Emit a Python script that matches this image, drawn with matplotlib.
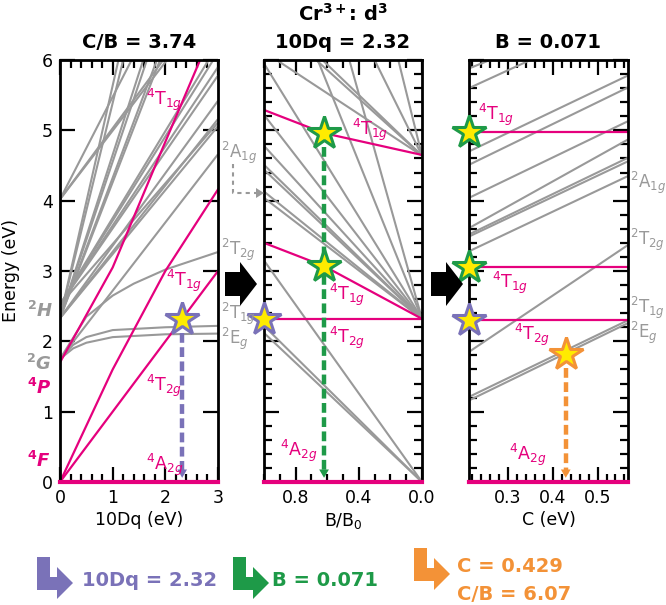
import matplotlib
matplotlib.use("Agg")
import matplotlib.pyplot as plt
from matplotlib.patches import Polygon
import numpy as np

plt.rcParams['font.family'] = ['DejaVu Sans']
plt.rcParams['mathtext.fontset'] = 'dejavusans'

MAG = '#E5007D'
GRAY = '#999999'
PURPLE = '#7A72B8'
GREEN = '#1E9A48'
ORANGE = '#F39237'
YELLOW = '#FFEB00'

# ---------------- data: panel 1 (E vs 10Dq, C/B = 3.74) ----------------
p1_quartets = [
    ([0, 3], [0, 3]),                                  # 4T2g
    ([0, 1.0, 2.0, 3.0], [0, 1.6, 3.0, 4.16]),          # 4T1g(F)
    ([0, 1.0, 1.9, 2.66], [1.70, 3.05, 4.66, 6.0]),     # 4T1g(P)
]
p1_doublets = [
    ([0, 0.25, 0.5, 1.0, 2.0, 3.0], [1.75, 1.90, 1.98, 2.06, 2.10, 2.11]),   # 2Eg
    ([0, 0.25, 0.5, 1.0, 2.0, 3.0], [1.75, 1.95, 2.06, 2.16, 2.20, 2.22]),   # 2T1g
    ([0, 0.5, 1.0, 1.4, 2.0, 3.0], [1.75, 2.35, 2.65, 2.82, 3.02, 3.27]),    # 2T2g
    ([0, 3.0], [1.75, 4.66]),
    ([0, 1.11], [2.33, 6.0]),
    ([0, 1.20], [2.33, 6.0]),
    ([0, 1.58], [2.33, 6.0]),
    ([0, 1.65], [2.33, 6.0]),
    ([0, 1.84], [2.33, 6.0]),
    ([0, 1.90], [2.33, 6.0]),
    ([0, 3.0], [2.33, 5.42]),
    ([0, 3.0], [2.33, 5.16]),
    ([0, 3.0], [2.33, 5.06]),
    ([0, 3.0], [2.52, 5.11]),
    ([0, 1.36], [4.02, 6.0]),
    ([0, 1.96], [4.02, 6.0]),
    ([0, 2.03], [4.02, 6.0]),
    ([0, 2.82], [2.52, 6.0]),
    ([0, 2.91], [2.52, 6.0]),
    ([0, 3.0], [2.52, 5.90]),
    ([0, 3.0], [2.52, 5.78]),
]
p1_star = (2.32, 2.32)

# ---------------- data: panel 2 (E vs B/B0, 10Dq = 2.32) ----------------
p2_quartets = [
    ([1.0, 0.0], [2.32, 2.32]),                 # 4T2g
    ([1.0, 0.62, 0.0], [3.40, 3.07, 2.32]),     # 4T1g(F)
    ([1.0, 0.62, 0.0], [5.29, 4.96, 4.65]),     # 4T1g(P)
]
p2_doublets = [
    ([1.0, 0.0], [2.22, 0.0]),
    ([1.0, 0.0], [2.12, 0.0]),
    ([1.0, 0.0], [3.15, 0.0]),
    ([1.0, 0.0], [4.04, 2.32]),
    ([1.0, 0.0], [4.13, 2.32]),
    ([1.0, 0.0], [4.44, 2.32]),
    ([1.0, 0.0], [4.51, 2.32]),
    ([1.0, 0.0], [4.78, 2.32]),
    ([1.0, 0.0], [5.22, 2.32]),
    ([1.0, 0.0], [5.95, 2.32]),
    ([0.66, 0.0], [6.0, 2.32]),
    ([0.46, 0.0], [6.0, 2.32]),
    ([0.92, 0.0], [6.0, 4.64]),
    ([0.67, 0.0], [6.0, 4.64]),
    ([0.63, 0.0], [6.0, 4.64]),
    ([0.30, 0.0], [6.0, 4.64]),
    ([0.15, 0.0], [6.0, 4.64]),
]
p2_stars_green = ([0.62, 0.62], [4.96, 3.07])
p2_star_purple = (1.0, 2.32)

# ---------------- data: panel 3 (E vs C, B = 0.071) ----------------
p3_quartets = [
    ([0.213, 0.568], [2.31, 2.31]),   # 4T2g
    ([0.213, 0.568], [3.06, 3.06]),   # 4T1g(F)
    ([0.213, 0.568], [4.97, 4.97]),   # 4T1g(P)
]
p3_doublets = [
    ([0.213, 0.568], [1.16, 2.26]),
    ([0.213, 0.568], [1.21, 2.30]),
    ([0.213, 0.568], [1.85, 3.37]),
    ([0.213, 0.568], [3.28, 4.35]),
    ([0.213, 0.568], [3.49, 4.56]),
    ([0.213, 0.568], [3.52, 4.61]),
    ([0.213, 0.568], [3.61, 4.87]),
    ([0.213, 0.568], [4.04, 5.13]),
    ([0.213, 0.568], [4.51, 5.61]),
    ([0.213, 0.568], [4.70, 5.78]),
    ([0.213, 0.35], [5.60, 6.0]),
    ([0.213, 0.26], [5.88, 6.0]),
]
p3_stars_green = ([0.213, 0.213], [4.97, 3.06])
p3_star_purple = (0.213, 2.31)
p3_star_orange = (0.429, 1.82)

# ---------------- figure ----------------
W, H = 666, 605
fig = plt.figure(figsize=(W / 100, H / 100), dpi=100)

def px_axes(x0, x1, y0, y1):
    return fig.add_axes([x0 / W, 1 - y1 / H, (x1 - x0) / W, (y1 - y0) / H])

ax1 = px_axes(60, 218, 60, 482)
ax2 = px_axes(264, 422, 60, 482)
ax3 = px_axes(469, 628, 60, 482)

for ax in (ax1, ax2, ax3):
    ax.set_ylim(0, 6)
    for s in ax.spines.values():
        s.set_linewidth(2.0)
    ax.tick_params(which='both', direction='in', top=True, right=True, width=1.6,
                   labelsize=12.5, pad=5)
    ax.tick_params(which='major', length=11)
    ax.tick_params(which='minor', length=5.5)

ax1.set_xlim(0, 3)
ax1.set_xticks([0, 1, 2, 3])
ax1.set_xticks(np.arange(0, 3.01, 0.2), minor=True)
ax1.set_yticks(range(7))
ax1.set_xlabel('10Dq (eV)', fontsize=12.5, labelpad=3)
ax1.set_ylabel('Energy (eV)', fontsize=12.5, labelpad=16)

ax2.set_xlim(1.0, 0.0)
ax2.set_xticks([0.8, 0.4, 0.0])
ax2.set_xticklabels(['0.8', '0.4', '0.0'])
ax2.set_xticks(np.arange(0, 1.01, 0.1), minor=True)
ax2.set_yticks(range(7))
ax2.set_yticks(np.arange(0, 6.01, 0.2), minor=True)
ax2.set_yticklabels([])
ax2.set_xlabel('B/B$_0$', fontsize=12.5, labelpad=3)

ax3.set_xlim(0.213, 0.568)
ax3.set_xticks([0.3, 0.4, 0.5])
ax3.set_xticklabels(['0.3', '0.4', '0.5'])
ax3.set_xticks(np.arange(0.22, 0.57, 0.02), minor=True)
ax3.set_yticks(range(7))
ax3.set_yticks(np.arange(0, 6.01, 0.2), minor=True)
ax3.set_yticklabels([])
ax3.set_xlabel('C (eV)', fontsize=12.5, labelpad=3)

glw, mlw = 1.5, 1.6
for ax, dbl, qrt in ((ax1, p1_doublets, p1_quartets),
                     (ax2, p2_doublets, p2_quartets),
                     (ax3, p3_doublets, p3_quartets)):
    for xs, ys in dbl:
        ax.plot(xs, ys, color=GRAY, lw=glw, solid_capstyle='butt')
    for xs, ys in qrt:
        ax.plot(xs, ys, color=MAG, lw=mlw)
    ax.axhline(0, color=MAG, lw=3, clip_on=False, zorder=5)

def star(ax, x, y, ec):
    ax.plot([x], [y], marker='*', ms=25, mfc=YELLOW, mec=ec, mew=2.2,
            clip_on=False, zorder=10)

def drop(ax, x, y, c):
    ax.plot([x, x], [y - 0.2, 0.12], color=c, lw=3.2, ls=(0, (2.2, 1.0)), zorder=8)
    ax.annotate('', xy=(x, 0.02), xytext=(x, 0.22),
                arrowprops=dict(arrowstyle='-|>,head_width=0.35,head_length=0.6',
                                color=c, lw=0), zorder=9)

drop(ax1, p1_star[0], p1_star[1], PURPLE)
star(ax1, *p1_star, PURPLE)
drop(ax2, p2_stars_green[0][0], p2_stars_green[1][0], GREEN)
for x, y in zip(*p2_stars_green):
    star(ax2, x, y, GREEN)
star(ax2, *p2_star_purple, PURPLE)
drop(ax3, p3_star_orange[0], p3_star_orange[1], ORANGE)
for x, y in zip(*p3_stars_green):
    star(ax3, x, y, GREEN)
star(ax3, *p3_star_purple, PURPLE)
star(ax3, *p3_star_orange, ORANGE)

# ---------------- overlay (pixel coordinates) ----------------
ov = fig.add_axes([0, 0, 1, 1])
ov.set_xlim(0, W)
ov.set_ylim(H, 0)
ov.axis('off')
ov.patch.set_alpha(0)

def lab(x, y, sup, base, sub, c, fs=12.5):
    s = r'$^{%s}$%s' % (sup, base)
    if sub:
        s += r'$_{%s}$' % sub
    ov.text(x, y, s, color=c, fontsize=fs, ha='left', va='center')

# titles
ov.text(139, 42, 'C/B = 3.74', fontsize=14, fontweight='bold', ha='center', va='center')
ov.text(343, 14, r'Cr$^{\mathbf{3+}}$: d$^{\mathbf{3}}$', fontsize=14, fontweight='bold',
        ha='center', va='center')
ov.text(343, 42, '10Dq = 2.32', fontsize=14, fontweight='bold', ha='center', va='center')
ov.text(548, 42, 'B = 0.071', fontsize=14, fontweight='bold', ha='center', va='center')

# quartet labels
for (x, y, sup, base, sub) in [
        (146, 100, '4', 'T', '1g'), (166, 281, '4', 'T', '1g'),
        (146, 386, '4', 'T', '2g'), (146, 465, '4', 'A', '2g'),
        (352, 130, '4', 'T', '1g'), (329, 295, '4', 'T', '1g'),
        (329, 338, '4', 'T', '2g'), (280, 451, '4', 'A', '2g'),
        (478, 115, '4', 'T', '1g'), (492, 283, '4', 'T', '1g'),
        (514, 335, '4', 'T', '2g'), (509, 455, '4', 'A', '2g')]:
    lab(x, y, sup, base, sub, MAG)

# doublet labels (gray)
for (x, y, sup, base, sub) in [
        (221, 153, '2', 'A', '1g'), (221, 250, '2', 'T', '2g'),
        (221, 314, '2', 'T', '1g'), (221, 339, '2', 'E', 'g'),
        (630, 183, '2', 'A', '1g'), (630, 240, '2', 'T', '2g'),
        (630, 308, '2', 'T', '1g'), (630, 333, '2', 'E', 'g')]:
    lab(x, y, sup, base, sub, GRAY, fs=12)

# free-ion terms left of panel 1
for (x, y, sup, base, c) in [(27, 311, '2', 'H', GRAY), (26, 364, '2', 'G', GRAY),
                             (27, 388, '4', 'P', MAG), (27, 461, '4', 'F', MAG)]:
    ov.text(x, y, r'$^{\mathbf{%s}}$%s' % (sup, base), color=c, fontsize=13,
            fontweight='bold', style='italic', ha='left', va='center')

# dashed 2A1g arrow
ov.plot([233, 233, 256], [164, 193, 193], color=GRAY, lw=1.5, ls=(0, (2, 2)))
ov.add_patch(Polygon([[256, 188], [264, 193], [256, 198]], closed=True, color=GRAY, lw=0))

# black block arrows
for x0 in (225, 431):
    ov.add_patch(Polygon([[x0, 272], [x0 + 15, 272], [x0 + 15, 262], [x0 + 32, 284],
                          [x0 + 15, 306], [x0 + 15, 296], [x0, 296]],
                         closed=True, color='black', lw=0))

# bottom bent arrows
def bent(x0, y0, c):
    pts = [[x0, y0], [x0 + 13, y0], [x0 + 13, y0 + 20], [x0 + 20, y0 + 20],
           [x0 + 20, y0 + 10], [x0 + 36, y0 + 26], [x0 + 20, y0 + 42],
           [x0 + 20, y0 + 33], [x0, y0 + 33]]
    ov.add_patch(Polygon(pts, closed=True, color=c, lw=0))

bent(37, 557, PURPLE)
bent(233, 557, GREEN)
bent(414, 548, ORANGE)
ov.text(82, 581, '10Dq = 2.32', color=PURPLE, fontsize=14, fontweight='bold', va='center')
ov.text(272, 581, 'B = 0.071', color=GREEN, fontsize=14, fontweight='bold', va='center')
ov.text(457, 567, 'C = 0.429', color=ORANGE, fontsize=14, fontweight='bold', va='center')
ov.text(457, 594, 'C/B = 6.07', color=ORANGE, fontsize=14, fontweight='bold', va='center')

fig.savefig('out.png', dpi=100)
